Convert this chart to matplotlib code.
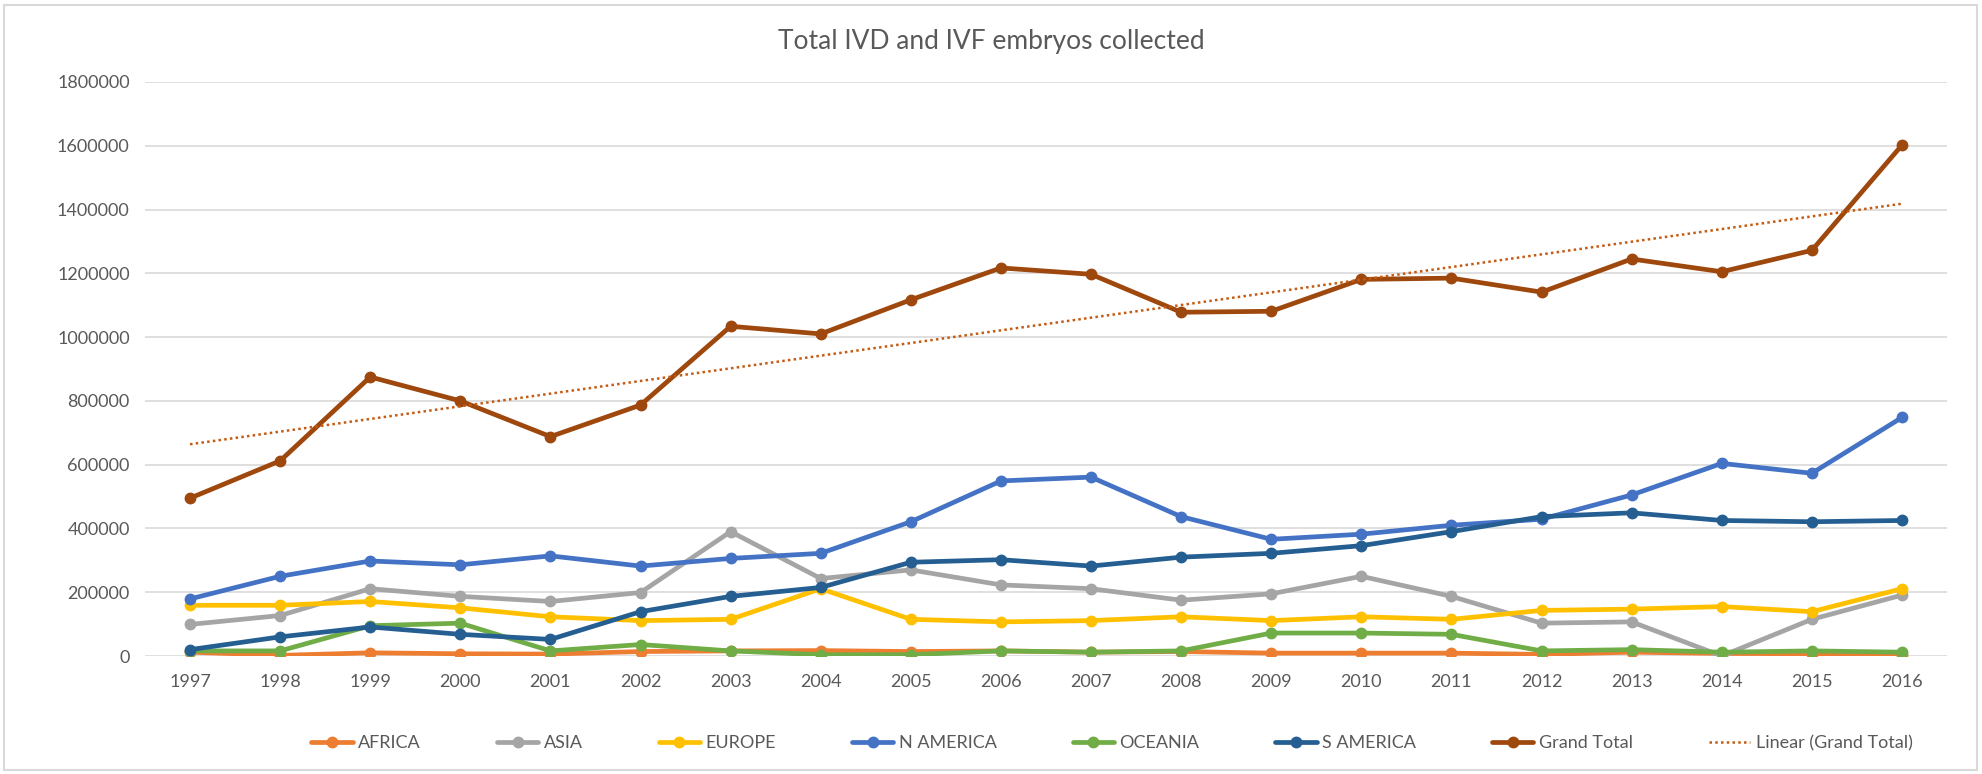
import matplotlib
matplotlib.use('Agg')
import matplotlib.pyplot as plt
from matplotlib.patches import Rectangle
import numpy as np

years = [str(y) for y in range(1997, 2017)]

africa = [12000, 2000, 10000, 7000, 6000, 14000, 16000, 17000, 14000, 16000,
          12000, 14000, 9000, 9000, 9000, 5000, 12000, 8000, 7000, 4000]
asia = [99000, 127000, 211000, 187000, 171000, 199000, 390000, 243000, 270000, 223000,
        211000, 175000, 195000, 250000, 187000, 103000, 107000, 0, 115000, 191000]
europe = [159000, 159000, 171000, 151000, 123000, 111000, 115000, 211000, 115000, 107000,
          111000, 123000, 111000, 123000, 115000, 143000, 147000, 155000, 139000, 211000]
n_america = [179000, 250000, 298000, 286000, 314000, 282000, 306000, 322000, 421000, 549000,
             561000, 437000, 366000, 382000, 410000, 429000, 505000, 604000, 573000, 748000]
oceania = [16000, 16000, 95000, 103000, 16000, 36000, 16000, 4000, 4000, 16000,
           12000, 16000, 72000, 72000, 68000, 16000, 20000, 12000, 16000, 12000]
s_america = [20000, 60000, 91000, 68000, 52000, 139000, 187000, 215000, 294000, 302000,
             282000, 310000, 322000, 346000, 390000, 437000, 449000, 425000, 421000, 425000]
grand_total = [495000, 612000, 875000, 800000, 688000, 787000, 1034000, 1010000, 1117000, 1217000,
               1197000, 1078000, 1081000, 1181000, 1185000, 1141000, 1245000, 1205000, 1272000, 1602000]

series = [
    ('AFRICA', africa, '#ED7D31'),
    ('ASIA', asia, '#A5A5A5'),
    ('EUROPE', europe, '#FFC000'),
    ('N AMERICA', n_america, '#4472C4'),
    ('OCEANIA', oceania, '#70AD47'),
    ('S AMERICA', s_america, '#255E91'),
    ('Grand Total', grand_total, '#9E480E'),
]

plt.rcParams['font.family'] = ['Lato', 'DejaVu Sans']
txt = '#595959'

fig = plt.figure(figsize=(19.82, 7.74), dpi=100)
ax = fig.add_axes([0.07316, 0.15245, 0.90918, 0.74161])

x = np.arange(len(years))
for name, vals, col in series:
    ax.plot(x, vals, color=col, linewidth=3.4, marker='o', markersize=7.5,
            label=name, solid_joinstyle='round', solid_capstyle='round')

# linear trendline on grand total
k, b = np.polyfit(x, grand_total, 1)
ax.plot(x, k * x + b, color='#C55A11', linewidth=1.8, linestyle=(0, (1, 1.3)),
        label='Linear (Grand Total)')

ax.set_xlim(-0.5, len(years) - 0.5)
ax.set_ylim(0, 1800000)
ax.set_yticks(range(0, 1800001, 200000))
ax.set_yticklabels([str(v) for v in range(0, 1800001, 200000)])
ax.set_xticks(x)
ax.set_xticklabels(years)
ax.tick_params(axis='both', length=0, labelsize=13, labelcolor=txt)
ax.tick_params(axis='y', pad=11)
ax.tick_params(axis='x', pad=13)
ax.grid(True, axis='y', color='#D9D9D9', linewidth=1.2)
ax.set_axisbelow(True)
for s in ax.spines.values():
    s.set_visible(False)

fig.text(0.5, 1 - 42 / 774, 'Total IVD and IVF embryos collected', ha='center', va='center',
         fontsize=19, color=txt)

fig.legend(loc='center', bbox_to_anchor=(0.561, 1 - 743 / 774), ncol=8, frameon=False,
           fontsize=13, handlelength=2.3, handletextpad=0.3, columnspacing=4.2,
           labelcolor=txt)

fig.patches.append(Rectangle((4 / 1982, 4 / 774), 1 - 9 / 1982, 1 - 9 / 774,
                             transform=fig.transFigure, fill=False,
                             edgecolor='#D9D9D9', linewidth=1.5))

plt.savefig('out.png', dpi=100)
plt.close()
